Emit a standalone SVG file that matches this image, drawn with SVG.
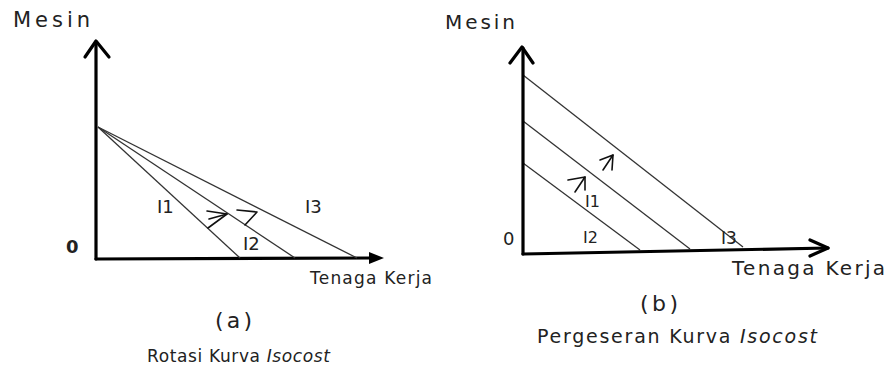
<svg xmlns="http://www.w3.org/2000/svg" width="887" height="370" viewBox="0 0 887 370">
<style>
.t{font-family:"DejaVu Sans","Liberation Sans",sans-serif;fill:#222}
.ax{stroke:#000;stroke-width:3.2;fill:none;stroke-linecap:round;stroke-linejoin:round}
.ln{stroke:#333;stroke-width:1.3;fill:none}
.sa{stroke:#111;stroke-width:1.6;fill:none;stroke-linecap:round;stroke-linejoin:round}
</style>
<rect width="887" height="370" fill="#fff"/>
<g id="panel-a-axes">
<polyline class="ax" points="96,259 96,42"/>
<polyline class="ax" points="85,57 96,41 109,57"/>
<polyline class="ax" points="96,259 372,258"/>
<polygon points="384,258 369,252 369,264" fill="#000"/>
</g>
<g id="connectors">
<line class="ln" x1="98" y1="127" x2="240" y2="258"/>
<line class="ln" x1="98" y1="127" x2="295" y2="258"/>
<line class="ln" x1="98" y1="127" x2="357" y2="258"/>
<polyline class="sa" points="208,228 227,214 207,211"/>
<line class="sa" x1="227" y1="214" x2="209" y2="219"/>
<polyline class="sa" points="237,210 257,212 245,225"/>
<line class="ln" x1="523" y1="75" x2="743" y2="247"/>
<line class="ln" x1="523" y1="121" x2="690" y2="249"/>
<line class="ln" x1="523" y1="163" x2="640" y2="250"/>
<polyline class="sa" points="568,180 585,177 575,192"/>
<line class="sa" x1="585" y1="177" x2="585" y2="190"/>
<polyline class="sa" points="600,160 613,155 603,170"/>
<line class="sa" x1="613" y1="155" x2="612" y2="170"/>
</g>
<g id="panel-b-axes">
<polyline class="ax" points="523,254 523,48"/>
<polyline class="ax" points="510,63 522,47 533,63"/>
<polyline class="ax" points="523,254 828,248"/>
<polyline class="ax" points="810,240 828,248 810,256"/>
</g>
<g id="labels-a">
<text class="t" x="13" y="27" font-size="21" textLength="77" lengthAdjust="spacing">Mesin</text>
<text class="t" x="66" y="253" font-size="18" font-weight="bold">0</text>
<text class="t" x="157" y="213" font-size="18">I1</text>
<text class="t" x="243" y="250" font-size="18">I2</text>
<text class="t" x="305" y="213" font-size="18">I3</text>
<text class="t" x="310" y="284" font-size="17" textLength="122" lengthAdjust="spacing" fill="#444">Tenaga Kerja</text>
<text class="t" x="215" y="328" font-size="22" textLength="37" lengthAdjust="spacing" fill="#333">(a)</text>
<text class="t" x="147" y="362" font-size="17" textLength="183" lengthAdjust="spacing" fill="#333">Rotasi Kurva <tspan font-style="italic">Isocost</tspan></text>
</g>
<g id="labels-b">
<text class="t" x="445" y="29" font-size="20" textLength="70" lengthAdjust="spacing" fill="#333">Mesin</text>
<text class="t" x="503" y="245" font-size="18" fill="#333">0</text>
<text class="t" x="585" y="207" font-size="16">I1</text>
<text class="t" x="583" y="243" font-size="16">I2</text>
<text class="t" x="721" y="244" font-size="17">I3</text>
<text class="t" x="732" y="275" font-size="20" textLength="153" lengthAdjust="spacing">Tenaga Kerja</text>
<text class="t" x="640" y="311" font-size="22" textLength="38" lengthAdjust="spacing" fill="#333">(b)</text>
<text class="t" x="537" y="343" font-size="19" textLength="280" lengthAdjust="spacing" fill="#333">Pergeseran Kurva <tspan font-style="italic">Isocost</tspan></text>
</g>
</svg>
